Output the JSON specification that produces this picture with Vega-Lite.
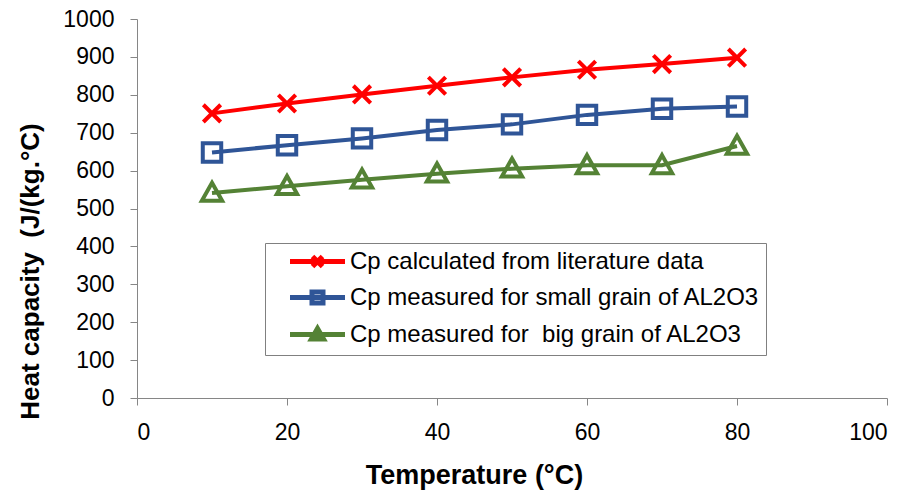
{
  "$schema": "https://vega.github.io/schema/vega-lite/v6.json",
  "width": 750,
  "height": 379,
  "autosize": {"type": "none"},
  "padding": {"left": 137, "top": 19, "right": 25, "bottom": 95},
  "background": "white",
  "config": {
    "view": {"stroke": null},
    "font": "Liberation Sans",
    "axis": {
      "grid": false,
      "domainColor": "#868686",
      "tickColor": "#868686",
      "domainWidth": 1,
      "tickWidth": 1,
      "tickSize": 7,
      "labelFont": "Liberation Sans",
      "labelFontSize": 23,
      "labelColor": "#000000",
      "labelPadding": 16,
      "titleFont": "Liberation Sans",
      "titleFontSize": 26,
      "titleFontWeight": "bold",
      "titleColor": "#000000"
    }
  },
  "data": {
    "values": [
      {"t": 10, "cp": 751, "series": "Cp calculated from literature data"},
      {"t": 20, "cp": 777, "series": "Cp calculated from literature data"},
      {"t": 30, "cp": 801, "series": "Cp calculated from literature data"},
      {"t": 40, "cp": 824, "series": "Cp calculated from literature data"},
      {"t": 50, "cp": 846, "series": "Cp calculated from literature data"},
      {"t": 60, "cp": 866, "series": "Cp calculated from literature data"},
      {"t": 70, "cp": 881, "series": "Cp calculated from literature data"},
      {"t": 80, "cp": 898, "series": "Cp calculated from literature data"},
      {"t": 10, "cp": 648, "series": "Cp measured for small grain of AL2O3"},
      {"t": 20, "cp": 667, "series": "Cp measured for small grain of AL2O3"},
      {"t": 30, "cp": 685, "series": "Cp measured for small grain of AL2O3"},
      {"t": 40, "cp": 707, "series": "Cp measured for small grain of AL2O3"},
      {"t": 50, "cp": 722, "series": "Cp measured for small grain of AL2O3"},
      {"t": 60, "cp": 747, "series": "Cp measured for small grain of AL2O3"},
      {"t": 70, "cp": 763, "series": "Cp measured for small grain of AL2O3"},
      {"t": 80, "cp": 769, "series": "Cp measured for small grain of AL2O3"},
      {"t": 10, "cp": 541, "series": "Cp measured for  big grain of AL2O3"},
      {"t": 20, "cp": 559, "series": "Cp measured for  big grain of AL2O3"},
      {"t": 30, "cp": 576, "series": "Cp measured for  big grain of AL2O3"},
      {"t": 40, "cp": 592, "series": "Cp measured for  big grain of AL2O3"},
      {"t": 50, "cp": 605, "series": "Cp measured for  big grain of AL2O3"},
      {"t": 60, "cp": 614, "series": "Cp measured for  big grain of AL2O3"},
      {"t": 70, "cp": 614, "series": "Cp measured for  big grain of AL2O3"},
      {"t": 80, "cp": 665, "series": "Cp measured for  big grain of AL2O3"}
    ]
  },
  "encoding": {
    "x": {
      "field": "t",
      "type": "quantitative",
      "scale": {"domain": [0, 100], "nice": false},
      "axis": {
        "values": [0, 20, 40, 60, 80, 100],
        "title": "Temperature (°C)",
        "titleFontSize": 27,
        "titleX": 337,
        "titleY": 85,
        "titleAnchor": null,
        "titleAlign": "center",
        "titleBaseline": "alphabetic"
      }
    },
    "y": {
      "field": "cp",
      "type": "quantitative",
      "scale": {"domain": [0, 1000], "nice": false},
      "axis": {
        "values": [0, 100, 200, 300, 400, 500, 600, 700, 800, 900, 1000],
        "format": "d",
        "title": "Heat capacity \u00a0(J/(kg.°C)",
        "titleX": -99,
        "titleY": 252,
        "titleAngle": -90,
        "titleAlign": "center",
        "titleBaseline": "alphabetic"
      }
    }
  },
  "layer": [
    {
      "mark": {"type": "line", "strokeWidth": 4},
      "encoding": {
        "color": {
          "field": "series",
          "type": "nominal",
          "sort": null,
          "scale": {
            "domain": ["Cp calculated from literature data", "Cp measured for small grain of AL2O3", "Cp measured for  big grain of AL2O3"],
            "range": ["#FF0000", "#2F5597", "#548235"]
          },
          "legend": {
            "orient": "none",
            "legendX": 128,
            "legendY": 224,
            "title": null,
            "padding": 6,
            "strokeColor": "#808080",
            "fillColor": "#FFFFFF",
            "labelFont": "Liberation Sans",
            "labelFontSize": 24,
            "labelColor": "#000000",
            "labelLimit": 0,
            "labelExpr": "replace(datum.label, '  ', ' \u00a0')",
            "labelOffset": 20,
            "symbolOffset": 34,
            "rowPadding": 5,
            "symbolSize": 400,
            "symbolStrokeWidth": 5,
            "symbolType": "M-2.75,0L2.75,0",
            "encode": {
              "symbols": {
                "update": {
                  "shape": {"signal": "datum.value == 'Cp calculated from literature data' ? 'M-2.75,0L2.75,0M-0.5,-0.5L0.5,0.5M-0.5,0.5L0.5,-0.5' : (datum.value == 'Cp measured for small grain of AL2O3' ? 'M-2.75,0L2.75,0M-0.55,-0.55H0.55V0.55H-0.55Z' : 'M-2.75,0L2.75,0M0,-0.6L0.6,0.45H-0.6Z')"},
                  "fill": {"value": "transparent"},
                  "strokeWidth": {"value": 5}
                }
              }
            }
          }
        }
      }
    },
    {
      "transform": [{"filter": "datum.series == 'Cp calculated from literature data'"}],
      "mark": {"type": "point", "filled": false, "strokeWidth": 4, "size": 300, "opacity": 1, "color": "#FF0000", "shape": "M-1,-1L1,1M-1,1L1,-1"}
    },
    {
      "transform": [{"filter": "datum.series == 'Cp measured for small grain of AL2O3'"}],
      "mark": {"type": "point", "filled": false, "strokeWidth": 4, "size": 340, "opacity": 1, "color": "#2F5597", "shape": "M-1,-1H1V1H-1Z"}
    },
    {
      "transform": [{"filter": "datum.series == 'Cp measured for  big grain of AL2O3'"}],
      "mark": {"type": "point", "filled": false, "strokeWidth": 4, "size": 340, "opacity": 1, "color": "#548235", "shape": "M0,-1.1L1.1,0.85H-1.1Z"}
    }
  ]
}
